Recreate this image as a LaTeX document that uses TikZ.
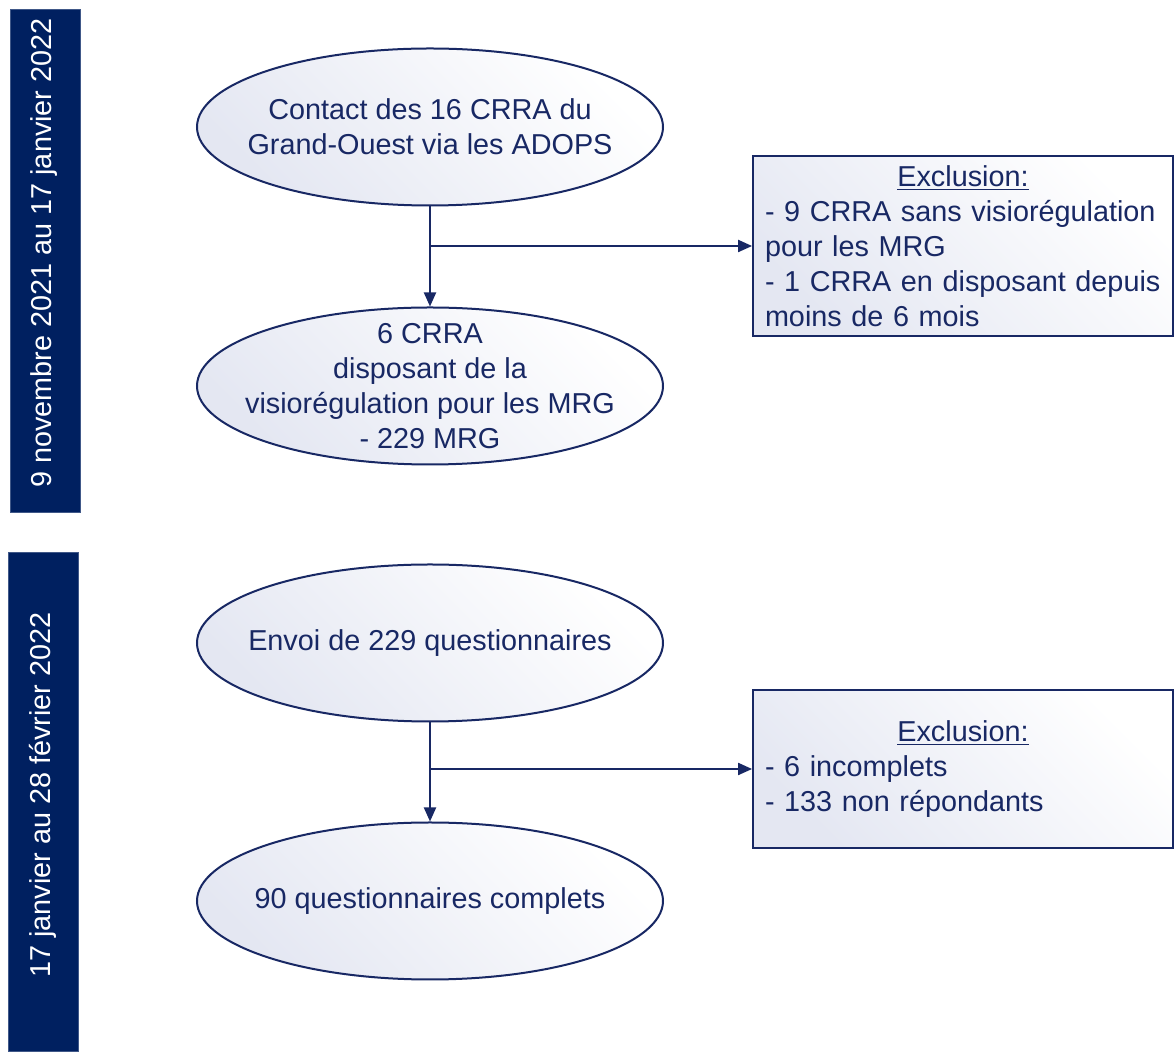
\documentclass[tikz,border=0pt]{standalone}
\usepackage{fontspec}
\setmainfont{Liberation Sans}
\usepackage{xcolor}
\usetikzlibrary{shapes.geometric,arrows.meta}
\definecolor{marine}{RGB}{0,32,96}
\definecolor{trait}{RGB}{24,40,100}
\definecolor{fond}{RGB}{228,231,242}

\begin{document}
\begin{tikzpicture}[x=0.5pt,y=-0.5pt,>={Triangle[length=7pt,width=6pt]},
  font=\fontsize{14.4}{17.5}\selectfont,
  etape/.style={draw=trait,line width=1pt,ellipse,minimum width=233pt,minimum height=78.5pt,
    inner sep=-13pt,align=center,text=trait,top color=white,bottom color=fond,shading angle=-45},
  exclu/.style={draw=trait,line width=0.9pt,rectangle,minimum width=210pt,text width=198pt,
    inner xsep=6pt,inner ysep=2pt,align=left,text=trait,top color=white,bottom color=fond,shading angle=-45},
  bande/.style={fill=marine,draw=marine!75,line width=0.5pt,minimum width=35pt,inner sep=0pt},
  periode/.style={rotate=90,text=white}]

\useasboundingbox (0,0) rectangle (1174,1052);

% bandes des periodes
\node[bande,minimum height=251.5pt] (b1) at (45,261.5) {};
\node[periode] (p1) at (44,253) {9 novembre 2021 au 17 janvier 2022};
\node[bande,minimum height=249.5pt] (b2) at (43,802.5) {};
\node[periode] (p2) at (43,795) {17 janvier au 28 février 2022};

% premiere phase
\node[etape] (e1) at (430,127) {Contact des 16 CRRA du\\Grand-Ouest via les ADOPS};
\node[etape] (e2) at (430,386) {6 CRRA\\disposant de la\\visiorégulation pour les MRG\\- 229 MRG};
\node[exclu,minimum height=90pt] (x1) at (963,246)
  {\makebox[\linewidth]{\underline{Exclusion:}}\\\mbox{- 9 CRRA sans visiorégulation}\\pour les MRG\\\mbox{- 1 CRRA en disposant depuis}\\moins de 6 mois};

\draw[trait,line width=1pt,->] (e1) -- (e2);
\draw[trait,line width=1pt,->] (e1.south |- x1.west) -- (x1.west);

% deuxieme phase
\node[etape] (e3) at (430,643) {Envoi de 229 questionnaires};
\node[etape] (e4) at (430,901) {90 questionnaires complets};
\node[exclu,minimum height=79pt] (x2) at (963,769)
  {\makebox[\linewidth]{\underline{Exclusion:}}\\- 6 incomplets\\- 133 non répondants};

\draw[trait,line width=1pt,->] (e3) -- (e4);
\draw[trait,line width=1pt,->] (e3.south |- x2.west) -- (x2.west);

\end{tikzpicture}
\end{document}
